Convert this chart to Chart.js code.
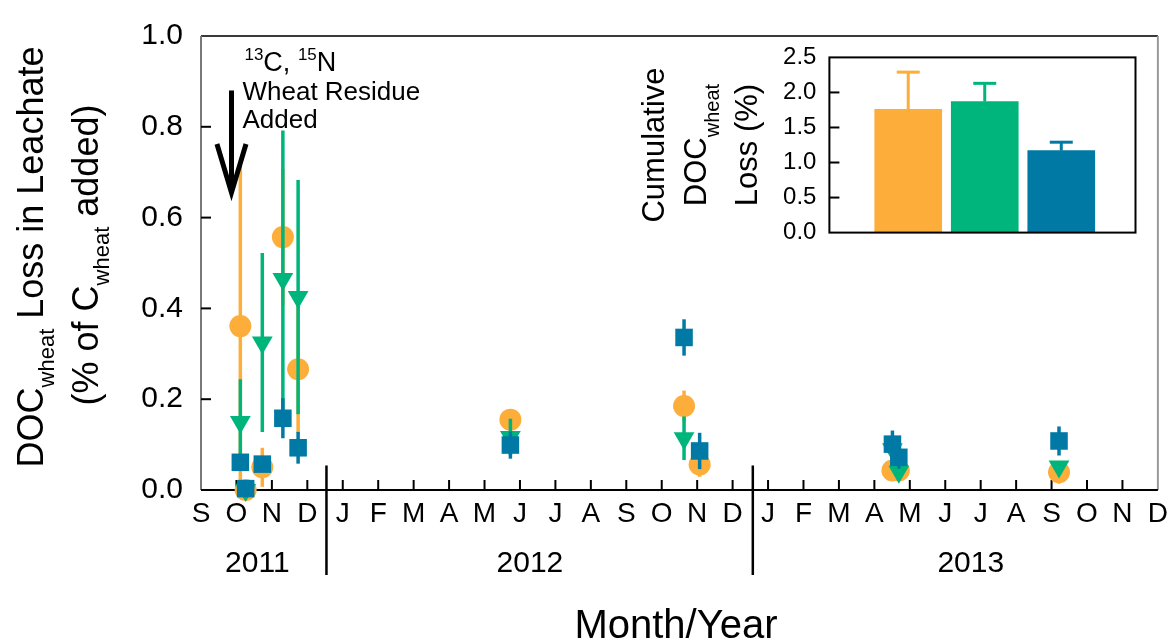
<!DOCTYPE html>
<html>
<head>
<meta charset="utf-8">
<script src="https://cdn.jsdelivr.net/npm/chart.js@4.4.1/dist/chart.umd.min.js"></script>
<style>
  html, body { margin: 0; padding: 0; background: #fff; }
  #wrap { position: relative; width: 1175px; height: 644px; }
  #mainChart { position: absolute; left: 0; top: 0; }
  #insetChart { position: absolute; left: 620px; top: 30px; }
</style>
</head>
<body>
<div id="wrap">
  <canvas id="mainChart" width="1175" height="644"></canvas>
  <canvas id="insetChart" width="530" height="230"></canvas>
</div>
<script>
// data part

const FONT = "'Liberation Sans', Arial, sans-serif"

// x axis = months since Sep 2011
const monthLabels = ['S','O','N','D','J','F','M','A','M','J','J','A','S','O','N','D','J','F','M','A','M','J','J','A','S','O','N','D']
const yearLabels = ['2011', '2012', '2013']
const yearCenters = [1.59, 9.28, 21.72]
const yearBreaks = [3.54, 15.57]

const seriesNames = ['Treatment 1', 'Treatment 2', 'Treatment 3']
const seriesColors = ['#FDAD39', '#00B57B', '#0079A4']

const sampleMonths = [1.11, 1.26, 1.73, 2.31, 2.74, 8.73, 13.63, 14.07, 19.51, 19.69, 24.21]
const orangeLoss = [0.361, 0.0, 0.05, 0.557, 0.266, 0.155, 0.185, 0.056, 0.043, 0.043, 0.039]
const orangeErr  = [0.354, 0, 0.043, 0.15, 0.14, 0, 0.034, 0.027, 0, 0, 0.025]
const greenLoss  = [0.15, 0.0, 0.325, 0.465, 0.425, 0.117, 0.114, null, 0.09, 0.04, 0.052]
const greenErr   = [0.094, 0, 0.197, 0.327, 0.258, 0.04, 0.048, 0, 0, 0, 0]
const blueLoss   = [0.061, 0.003, 0.057, 0.158, 0.093, 0.099, 0.336, 0.086, 0.101, 0.072, 0.108]
const blueErr    = [0.01, 0, 0.01, 0.044, 0.035, 0.03, 0.04, 0.04, 0.03, 0.025, 0.032]

// inset: cumulative DOC loss (%)
const cumPositions = [1, 2, 3]
const cumLoss = [1.76, 1.87, 1.17]
const cumErr = [0.53, 0.26, 0.12]

// annotation (data units)
const arrowX = 0.86, arrowTop = 0.88, arrowTip = 0.655, arrowHeadY = 0.762, arrowHalf = 0.41
const noteX = 1.17
const noteY = [0.922, 0.858, 0.797]

Chart.defaults.font.family = FONT
Chart.defaults.color = '#000'

function richText(ctx, parts, x, y, center) {
    let total = 0
    parts.forEach(p => { ctx.font = p[1] + 'px ' + FONT; total += ctx.measureText(p[0]).width })
    let cx = center ? x - total / 2 : x
    ctx.textAlign = 'left'
    ctx.textBaseline = 'alphabetic'
    parts.forEach(p => {
        ctx.font = p[1] + 'px ' + FONT
        ctx.fillText(p[0], cx, y + (p[2] || 0))
        cx += ctx.measureText(p[0]).width
    })
}

function rotatedRich(ctx, parts, x, y) {
    ctx.save()
    ctx.translate(x, y)
    ctx.rotate(-Math.PI / 2)
    richText(ctx, parts, 0, 0, true)
    ctx.restore()
}

function pts(vals) {
    return sampleMonths.map((m, i) => ({x: m, y: vals[i]}))
}

const errorBars = {
    id: 'errorBars',
    beforeDatasetDraw(chart, args) {
        const ds = chart.data.datasets[args.index]
        if (!ds.errors) return
        const xs = chart.scales.x, ys = chart.scales.y, ctx = chart.ctx
        ctx.save()
        ctx.strokeStyle = ds.backgroundColor
        ctx.lineWidth = 3.5
        ds.data.forEach((p, i) => {
            const e = ds.errors[i]
            if (p.y == null || !e) return
            const px = xs.getPixelForValue(p.x)
            ctx.beginPath()
            ctx.moveTo(px, ys.getPixelForValue(Math.max(p.y - e, 0)))
            ctx.lineTo(px, ys.getPixelForValue(p.y + e))
            ctx.stroke()
        })
        ctx.restore()
    }
}

const mainFrame = {
    id: 'mainFrame',
    beforeDatasetsDraw(chart) {
        const a = chart.chartArea, ctx = chart.ctx
        const xs = chart.scales.x, ys = chart.scales.y
        ctx.save()
        ctx.lineWidth = 2
        ctx.strokeStyle = '#3a3a3a'
        ctx.beginPath(); ctx.moveTo(a.left, a.top); ctx.lineTo(a.right, a.top); ctx.stroke()
        ctx.strokeStyle = '#7a7a7a'
        ctx.beginPath(); ctx.moveTo(a.left, a.top); ctx.lineTo(a.left, a.bottom); ctx.stroke()
        ctx.strokeStyle = '#9a9a9a'
        ctx.beginPath(); ctx.moveTo(a.right, a.top); ctx.lineTo(a.right, a.bottom); ctx.stroke()
        ctx.strokeStyle = '#000'
        ctx.beginPath(); ctx.moveTo(a.left, a.bottom); ctx.lineTo(a.right, a.bottom); ctx.stroke()
        // inward ticks
        for (let m = 1; m < monthLabels.length - 1; m++) {
            const px = xs.getPixelForValue(m)
            ctx.beginPath(); ctx.moveTo(px, a.bottom); ctx.lineTo(px, a.bottom - 10); ctx.stroke()
        }
        for (let v = 0.2; v < 0.95; v += 0.2) {
            const py = ys.getPixelForValue(v)
            ctx.beginPath(); ctx.moveTo(a.left, py); ctx.lineTo(a.left + 10, py); ctx.stroke()
        }
        ctx.restore()
    },
    afterDraw(chart) {
        const a = chart.chartArea, ctx = chart.ctx
        const xs = chart.scales.x, ys = chart.scales.y
        ctx.save()
        ctx.fillStyle = '#000'
        ctx.strokeStyle = '#000'
        // year separators
        ctx.lineWidth = 2.5
        yearBreaks.forEach(b => {
            const px = xs.getPixelForValue(b)
            ctx.beginPath(); ctx.moveTo(px, ys.getPixelForValue(0.054)); ctx.lineTo(px, a.bottom + 85); ctx.stroke()
        })
        // year labels
        ctx.font = '30px ' + FONT
        ctx.textAlign = 'center'
        ctx.textBaseline = 'alphabetic'
        yearLabels.forEach((t, i) => ctx.fillText(t, xs.getPixelForValue(yearCenters[i]), a.bottom + 82))
        // axis titles
        ctx.font = '40px ' + FONT
        ctx.fillText('Month/Year', 676, 638)
        rotatedRich(ctx, [['DOC', 36], ['wheat', 22, 11], [' Loss in Leachate', 36]], 43, 257)
        rotatedRich(ctx, [['(% of C', 36], ['wheat', 22, 11], [' added)', 36]], 98, 255)
        // residue note
        const nx = xs.getPixelForValue(noteX)
        richText(ctx, [['13', 17, -11], ['C, ', 27], ['15', 17, -11], ['N', 27]], nx + 2, ys.getPixelForValue(noteY[0]))
        richText(ctx, [['Wheat Residue', 26]], nx, ys.getPixelForValue(noteY[1]))
        richText(ctx, [['Added', 26]], nx, ys.getPixelForValue(noteY[2]))
        // arrow
        const ax = xs.getPixelForValue(arrowX)
        const tip = ys.getPixelForValue(arrowTip), hy = ys.getPixelForValue(arrowHeadY)
        const hw = xs.getPixelForValue(arrowX + arrowHalf) - ax
        ctx.lineWidth = 5
        ctx.lineJoin = 'miter'
        ctx.beginPath(); ctx.moveTo(ax, ys.getPixelForValue(arrowTop)); ctx.lineTo(ax, tip - 2); ctx.stroke()
        ctx.beginPath(); ctx.moveTo(ax - hw, hy); ctx.lineTo(ax, tip); ctx.lineTo(ax + hw, hy); ctx.stroke()
        ctx.restore()
    }
}

// order: lower value is drawn later (on top)
function makeSet(i, vals, errs, style, radius, rotation, order) {
    return {
        label: seriesNames[i],
        data: pts(vals),
        errors: errs,
        pointStyle: style,
        pointRadius: radius,
        rotation: rotation,
        backgroundColor: seriesColors[i],
        borderColor: seriesColors[i],
        borderWidth: 0,
        clip: false,
        order: order
    }
}

new Chart(document.getElementById('mainChart'), {
    type: 'scatter',
    data: {
        datasets: [
            makeSet(0, orangeLoss, orangeErr, 'circle', 11, 0, 3),
            makeSet(1, greenLoss, greenErr, 'triangle', 12, 180, 2),
            makeSet(2, blueLoss, blueErr, 'rect', 12.4, 0, 1)
        ]
    },
    options: {
        responsive: false,
        animation: false,
        layout: {padding: {left: 0, right: 17, top: 26, bottom: 0}, autoPadding: false},
        plugins: {legend: {display: false}, tooltip: {enabled: false}},
        scales: {
            x: {
                type: 'linear', min: 0, max: 27,
                afterFit(s) { s.height = 154 },
                grid: {display: false, drawTicks: false},
                border: {display: false},
                ticks: {
                    stepSize: 1, autoSkip: false, maxRotation: 0, padding: 7,
                    font: {size: 28}, color: '#000',
                    callback: v => monthLabels[v]
                }
            },
            y: {
                min: 0, max: 1,
                afterFit(s) { s.width = 201 },
                grid: {display: false, drawTicks: false},
                border: {display: false},
                ticks: {
                    stepSize: 0.2, padding: 18,
                    font: {size: 30}, color: '#000',
                    callback: v => v.toFixed(1)
                }
            }
        }
    },
    plugins: [errorBars, mainFrame]
})

// inset part

const insetDecor = {
    id: 'insetDecor',
    afterDatasetsDraw(chart) {
        const a = chart.chartArea, ctx = chart.ctx
        const xs = chart.scales.x, ys = chart.scales.y
        ctx.save()
        ctx.strokeStyle = '#000'
        ctx.lineWidth = 2
        ctx.strokeRect(a.left, a.top, a.right - a.left, a.bottom - a.top)
        for (let v = 0.5; v < 2.4; v += 0.5) {
            const py = ys.getPixelForValue(v)
            ctx.beginPath(); ctx.moveTo(a.left, py); ctx.lineTo(a.left + 10, py); ctx.stroke()
        }
        ctx.lineWidth = 3
        cumLoss.forEach((v, i) => {
            const px = xs.getPixelForValue(cumPositions[i])
            const top = ys.getPixelForValue(v + cumErr[i])
            ctx.strokeStyle = seriesColors[i]
            ctx.beginPath(); ctx.moveTo(px, ys.getPixelForValue(v)); ctx.lineTo(px, top); ctx.stroke()
            ctx.beginPath(); ctx.moveTo(px - 11.5, top); ctx.lineTo(px + 11.5, top); ctx.stroke()
        })
        ctx.fillStyle = '#000'
        rotatedRich(ctx, [['Cumulative', 31]], 44, 115)
        rotatedRich(ctx, [['DOC', 31], ['wheat', 20, 13]], 86, 115)
        rotatedRich(ctx, [['Loss (%)', 31]], 136.5, 115)
        ctx.restore()
    }
}

new Chart(document.getElementById('insetChart'), {
    type: 'bar',
    data: {
        datasets: [{
            data: cumPositions.map((p, i) => ({x: p, y: cumLoss[i]})),
            backgroundColor: seriesColors,
            barThickness: 67
        }]
    },
    options: {
        responsive: false,
        animation: false,
        layout: {padding: {left: 0, right: 14.5, top: 18.5, bottom: 16.7}, autoPadding: false},
        plugins: {legend: {display: false}, tooltip: {enabled: false}},
        scales: {
            x: {type: 'linear', min: -0.03, max: 3.97, offset: false, display: false},
            y: {
                min: 0, max: 2.5,
                afterFit(s) { s.width = 209.4 },
                grid: {display: false, drawTicks: false},
                border: {display: false},
                ticks: {stepSize: 0.5, padding: 13, font: {size: 24}, color: '#000', callback: v => v.toFixed(1)}
            }
        }
    },
    plugins: [insetDecor]
})
</script>
</body>
</html>
